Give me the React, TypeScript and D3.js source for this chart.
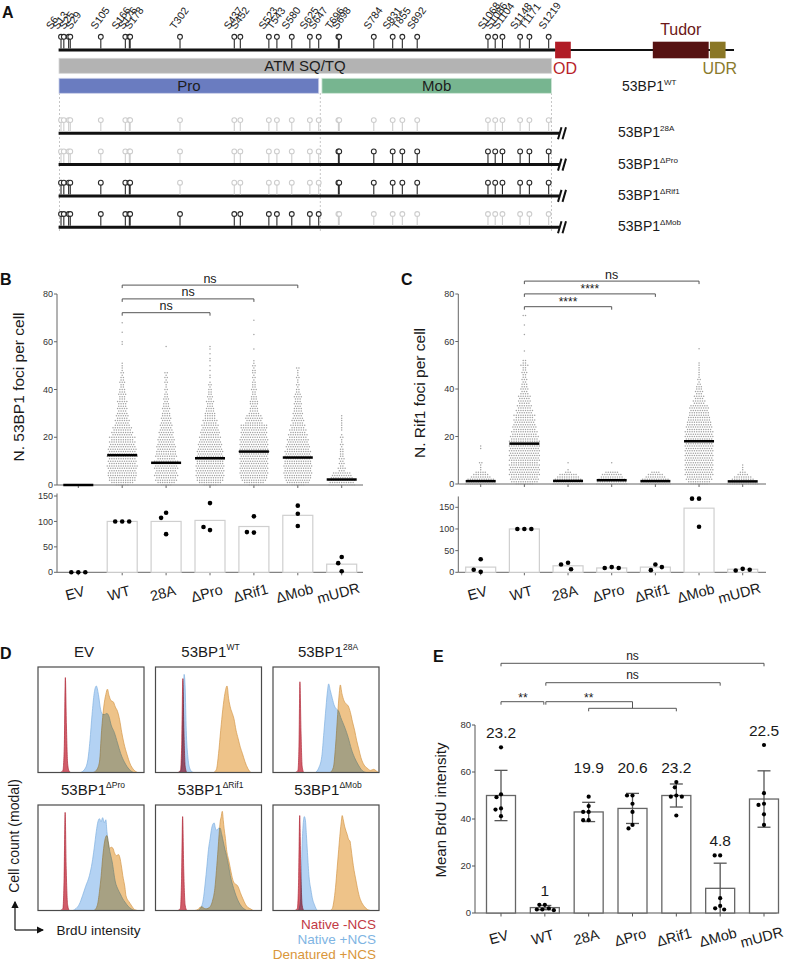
import React from 'react';
import * as d3 from 'd3';

const FONT = "'Liberation Sans', Arial, Helvetica, sans-serif";
const INK = '#1a1a1a';

// ---------------- Panel A data ----------------
const siteLabels = ['S6','S13','S25','S29','S105','S166','S176','S178','T302','S437','S452','S523','T543','S580','S625','S647','T696','S698','S784','S831','T855','S892','S1068','S1086','S1104','S1148','T1171','S1219'];
const siteResidues = siteLabels.map((s) => parseInt(s.slice(1), 10));
const atmRange = [1, 1226];
const proRange = [1, 647];
const mobRange = [655, 1226];
const odRange = [1235, 1274];
const tudorRange = [1478, 1617];
const udrRange = [1620, 1659];
const proteinEnd = 1680;
const constructNames = ['28A', 'ΔPro', 'ΔRif1', 'ΔMob'];
const constructMutated = [[[1, 1230]], [[1, 647]], [[200, 647]], [[655, 1230]]];

// ---------------- Panels B / C data ----------------
const catLabels = ['EV', 'WT', '28A', 'ΔPro', 'ΔRif1', 'ΔMob', 'mUDR'];

// counts of cells per integer foci number (index = foci count)
const fociB_EV = [14];
const fociB_WT = [6,10,12,12,13,13,12,13,14,12, 13,12,14,13,12,13,12,11,12,10, 12,9,10,8,9,7,6,7,5,6, 5,4,5,4,4,5,3,3,4,3, 3,2,2,3,2,2,1,2,1,1, 1,1,0,0,0,0,0,0,0,1, 1,0,0,0,1,0,0,0,1];
const fociB_28A = [5,8,10,9,11,10,9,11,10,9, 11,8,10,9,9,8,9,8,7,8, 7,6,7,6,5,6,5,4,5,4, 4,3,4,3,3,2,3,2,2,1, 2,1,1,2,1,2,1,2,0,0, 0,0,0,0,0,0,0,0,1];
const fociB_dPro = [6,10,12,12,13,12,13,12,13,12, 12,13,12,11,12,11,10,11,10,9, 10,8,9,8,7,8,6,7,5,5, 5,4,4,3,3,4,2,3,2,2, 2,1,2,1,0,1,1,0,1,0, 1,0,1,1,0,1,0,1,1];
const fociB_dRif1 = [5,9,11,12,12,13,12,13,12,13, 12,13,12,13,14,13,12,13,12,13, 12,11,12,11,12,12,8,7,8,7, 5,4,4,3,4,4,3,3,2,2, 3,2,2,2,1,2,1,2,2,1, 2,1,1,0,0,0,0,1,0,0, 0,0,0,1,0,0,0,0,0,1];
const fociB_dMob = [6,10,11,12,12,13,12,12,13,12, 12,11,12,11,12,10,11,10,9,10, 8,9,7,8,6,7,5,6,5,4, 5,4,4,3,4,3,3,4,3,2, 2,1,2,1,1,2,1,1,1,2];
const fociB_mUDR = [12,11,12,10,9,8,3,4,2,3, 2,3,2,2,2,2,1,2,1,1, 2,1,0,1,1,1,1,1,1,1];
const meanB = [0, 12.5, 9.3, 11.2, 14, 11.5, 2.3];
const relB = [0, 100, 100, 102, 90, 112, 16];
const relB_pts = [[0,0,0],[100,100,100],[117,107,75],[136,83,89],[110,78,79],[131,115,91],[30,18,2]];

const fociC_EV = [14,13,12,9,7,5,1,1,1,2,0,0,0,0,0,1,1];
const fociC_WT = [8,12,13,12,14,13,14,13,14,12, 14,13,14,13,14,13,14,12,14,12, 13,11,12,10,11,10,9,10,8,10, 7,8,6,7,5,6,5,6,4,3, 4,3,3,2,3,2,2,3,2,2, 4,2,2,0,0,0,1,0,0,0, 0,0,0,1,0,0,0,1,0,0, 0,2];
const fociC_28A = [14,13,12,10,8,3,1,0,0,1];
const fociC_dPro = [14,13,12,10,9,6,0,0,0,1];
const fociC_dRif1 = [14,13,12,9,7,4];
const fociC_dMob = [8,10,12,11,13,12,13,12,13,12, 13,12,13,12,13,12,13,12,13,12, 13,12,13,11,12,11,11,10,10,9, 9,8,9,8,5,6,4,5,3,4, 3,3,2,1,2,1,1,1,1,1, 1,1,0,0,0,0,0,1];
const fociC_mUDR = [14,12,10,8,5,3,1,1,1];
const meanC = [1.2, 17, 1.3, 1.6, 1.2, 18, 1.1];
const relC = [12, 100, 15, 10, 12, 148, 7];
const relC_pts = [[30,1,6],[100,100,100],[22,18,7],[12,10,10],[18,5,12],[170,170,105],[8,4,6]];

const compB = [{ a: 'WT', b: 'ΔPro', label: 'ns' }, { a: 'WT', b: 'ΔRif1', label: 'ns' }, { a: 'WT', b: 'ΔMob', label: 'ns' }];
const compC = [{ a: 'WT', b: 'ΔPro', label: '****' }, { a: 'WT', b: 'ΔRif1', label: '****' }, { a: 'WT', b: 'ΔMob', label: 'ns' }];

// ---------------- Panel D data ----------------
const histTitles = [['EV', ''], ['53BP1', 'WT'], ['53BP1', '28A'], ['53BP1', 'ΔPro'], ['53BP1', 'ΔRif1'], ['53BP1', 'ΔMob']];
// [intensity %, modal count %]
const histNativeMinus = [
  [[21,0],[23.5,2],[24.8,25],[25.8,90],[26.8,45],[28,8],[29.5,1],[31,0]],
  [[21,0],[23.5,2],[24.8,30],[25.8,89],[26.8,40],[28,6],[29.5,0]],
  [[21,0],[23.5,2],[24.5,25],[25.4,86],[26.4,40],[27.5,6],[29,0]],
  [[21,0],[23.5,2],[24.6,30],[25.6,93],[26.6,40],[28,5],[29.5,0]],
  [[21,0],[23.5,2],[24.6,30],[25.6,89],[26.6,40],[28,5],[29.5,0]],
  [[20.5,0],[23,2],[24.2,30],[25.2,90],[26.2,40],[27.5,5],[29,0]],
];
const histNativePlus = [
  [[40,0],[44,3],[47,12],[49,30],[51,55],[53,75],[55,82],[57,74],[59,60],[61,55],[63,55],[65,56],[67,53],[69,45],[72,38],[75,28],[78,18],[82,9],[86,3],[90,0]],
  [[22,0],[24.5,3],[25.8,40],[27,93],[28,80],[29,40],[30.5,15],[32,5],[34,1],[36,0]],
  [[40,0],[43,4],[46,15],[48,38],[50,62],[51.5,78],[52.5,84],[54,78],[56,70],[58,63],[60,60],[62,58],[64,52],[66,47],[68,42],[71,33],[74,22],[77,14],[80,8],[84,2],[88,0]],
  [[33,0],[36,2],[39,6],[42,14],[45,23],[48.5,33],[51,45],[53,59],[55,75],[56.5,84],[58,87],[59.5,84],[61,88],[62.5,83],[64,86],[65,75],[67,60],[70,46],[73,27],[75.5,20],[77.5,16],[80,11],[82,8],[85,4],[88,1.5],[91,0]],
  [[40,0],[43,3],[45,10],[47,27],[48.5,42],[50,58],[51.5,68],[53,78],[54.2,82],[55.4,83],[56.5,78],[58,76],[59.5,78],[61,78],[62.5,72],[64,65],[65.5,58],[67,52],[69,42],[70.6,33],[72,27],[73.7,21],[76,14],[78.5,8],[81,4],[83,2],[86,0]],
  [[24,0],[25,3],[26,10],[27.4,60],[28.5,82],[29.5,89],[30.5,86],[31.5,72],[32.5,55],[34,32],[35.7,20],[37.5,10],[38.9,6],[40.5,2],[42,0]],
];
const histDenatured = [
  [[52,0],[55,2],[58,10],[60,40],[62,62],[64,74],[65.5,79],[67,73],[69,68],[71,67],[73,62],[75,58],[77,50],[79,38],[81,28],[84,17],[87,8],[90,3],[94,0]],
  [[55,0],[57.5,3],[59.5,18],[61.5,40],[63.5,60],[65.5,75],[67.5,82],[69,70],[70.8,61],[72.5,56],[74,51],[76,40],[78,32],[80,24],[82,18],[84.5,10],[87,4],[90,0]],
  [[54,0],[57,5],[59,25],[61,55],[62.5,75],[63.5,83],[65,75],[67,68],[69,65],[71,63],[73,57],[75,48],[77,40],[79,30],[81,22],[83,14],[86,7],[89,4],[92,2],[95,3],[98,1],[99.5,0]],
  [[53,0],[56,5],[58,18],[59.6,33],[61,50],[62.8,65],[64,70],[65,71],[66.5,64],[67.5,59],[69,60],[70.7,59],[72,55],[74,52],[76,53],[77,51],[79,40],[80,33],[82,22],[83,14],[86,8],[88,5],[91,1],[94,0]],
  [[37,0],[40,1],[42,3],[43.7,3.5],[46,2],[48,1.6],[51,3],[54,10],[56,21],[57.5,38],[59,58],[60,72],[61,84],[62,89],[63,94],[64,85],[64.7,78],[66,68],[67,58],[69,48],[70.6,40],[72,33],[73.7,27],[75.5,25],[77,24],[79,20],[80,17],[82.5,11],[84.8,6],[87,3],[89.6,1.6],[92,0]],
  [[54,0],[56,2],[57.3,8],[59,22],[60.5,40],[62,58],[63,70],[64.2,82],[65.3,90],[66.3,86],[67.5,80],[69,75],[70,72],[71.5,67],[72.6,66],[73.5,60],[75,48],[76.5,38],[78,30],[79.5,22],[81,15],[83,9],[86,4],[89,1],[92,0]],
];
const legendLabels = ['Native -NCS', 'Native +NCS', 'Denatured +NCS'];

// ---------------- Panel E data ----------------
const brduMean = [50, 2.3, 43, 44.5, 50, 10.5, 48.5];
const brduSD = [10.7, 0.9, 4.1, 6.4, 4.9, 10.7, 12];
const brduPts = [
  [70.5, 50.5, 49.3, 44.5, 44, 41.2],
  [3.5, 3.5, 2, 1.5, 1.5, 1.2],
  [49.5, 45.5, 43, 43, 39.5, 39.5],
  [50, 50, 46.5, 43, 37.5, 36],
  [55.7, 53.5, 50, 49.5, 49.5, 41.5],
  [24.5, 24.5, 6.3, 3, 2, 1.5],
  [71.5, 51, 46.5, 46, 42, 37.5],
];
const brduFold = ['23.2', '1', '19.9', '20.6', '23.2', '4.8', '22.5'];

// ---------------- helpers ----------------
function swarmOffsets(ys: number[], minDist: number): number[] {
  const placed: { x: number; y: number }[] = [];
  return ys.map((y) => {
    for (let k = 0; k < 400; k++) {
      const off = (k % 2 === 0 ? 1 : -1) * Math.ceil(k / 2) * 0.5;
      if (placed.every((p) => Math.hypot(p.x - off, p.y - y) >= minDist)) {
        placed.push({ x: off, y });
        return off;
      }
    }
    return 0;
  });
}

function Sup({ x, y, base, sup, size, supSize, anchor = 'start', fill = INK }: any) {
  return (
    <text x={x} y={y} fontSize={size} textAnchor={anchor} fill={fill}>
      {base}
      {sup ? <tspan dy={-size * 0.42} fontSize={supSize}>{sup}</tspan> : null}
    </text>
  );
}

function PanelLetter({ x, y, t }: any) {
  return <text x={x} y={y} fontSize={16} fontWeight="bold" fill="#111">{t}</text>;
}

// ---------------- Panel A ----------------
function PanelA() {
  const xr = d3.scaleLinear().domain([0, 1231]).range([58.6, 553.5]);
  const wtY = 50;
  const rowY = (i: number) => 133.3 + i * 31.3;
  const siteX = siteResidues.map((r) => xr(r));
  const labelX = siteX.map((x) => x - 5);
  const gap = 6.5;
  for (let it = 0; it < 400; it++) {
    for (let i = 1; i < labelX.length; i++) {
      const d = labelX[i] - labelX[i - 1];
      if (d < gap) {
        const s = (gap - d) / 2;
        labelX[i - 1] -= s;
        labelX[i] += s;
      }
    }
  }
  const lolli = (x: number, y: number, active: boolean, key: string) => {
    const c = active ? '#2a2a2a' : '#cdcdcd';
    return (
      <g key={key}>
        <line x1={x} x2={x} y1={y - 11} y2={y - 1.5} stroke={c} strokeWidth={1.1} />
        <circle cx={x} cy={y - 13.2} r={2.4} fill="#fff" stroke={c} strokeWidth={1.1} />
      </g>
    );
  };
  const isMut = (ci: number, r: number) => constructMutated[ci].some(([a, b]) => r >= a && r <= b);
  const breakX = 559;
  return (
    <g>
      <PanelLetter x={2} y={18} t="A" />
      {siteLabels.map((s, i) => {
        const lx = +labelX[i].toFixed(2);
        return (
          <text key={s} x={lx} y={30} transform={`rotate(-54 ${lx} 30)`} fontSize={10.5} fill={INK}>{s}</text>
        );
      })}
      {/* dashed guides */}
      {[xr(proRange[0]) + 0.5, (xr(proRange[1]) + xr(mobRange[0])) / 2, xr(mobRange[1])].map((x, i) => (
        <line key={i} x1={x} x2={x} y1={93} y2={232} stroke="#b8b8b8" strokeWidth={0.8} strokeDasharray="2,2" />
      ))}
      {/* WT line */}
      <line x1={xr(0)} x2={xr(odRange[0])} y1={wtY} y2={wtY} stroke="#111" strokeWidth={3} />
      <line x1={xr(odRange[0])} x2={xr(proteinEnd)} y1={wtY} y2={wtY} stroke="#111" strokeWidth={2.2} />
      {siteX.map((x, i) => lolli(x, wtY, true, 'wt' + i))}
      <rect x={xr(odRange[0])} y={41.7} width={xr(odRange[1]) - xr(odRange[0])} height={16.6} fill="#b01c26" />
      <rect x={xr(tudorRange[0])} y={41.7} width={xr(tudorRange[1]) - xr(tudorRange[0])} height={16.6} fill="#561212" />
      <rect x={xr(udrRange[0])} y={41.7} width={xr(udrRange[1]) - xr(udrRange[0])} height={16.6} fill="#8a7726" />
      <text x={(xr(odRange[0]) + xr(odRange[1])) / 2 + 2} y={74} fontSize={16} textAnchor="middle" fill="#b81f2a">OD</text>
      <text x={(xr(tudorRange[0]) + xr(tudorRange[1])) / 2} y={35} fontSize={16} textAnchor="middle" fill="#6b1717">Tudor</text>
      <text x={(xr(udrRange[0]) + xr(udrRange[1])) / 2 + 2} y={74} fontSize={16} textAnchor="middle" fill="#8a7a2c">UDR</text>
      {/* region bars */}
      <rect x={xr(atmRange[0])} y={58.3} width={xr(atmRange[1]) - xr(atmRange[0])} height={15} fill="#b3b3b3" stroke="#d6d6d6" strokeWidth={0.8} />
      <text x={305} y={71.2} fontSize={15} textAnchor="middle" fill="#1d1d1d">ATM SQ/TQ</text>
      <rect x={xr(proRange[0])} y={78.3} width={xr(proRange[1]) - xr(proRange[0])} height={15} fill="#6a7cc0" stroke="#c9cfe8" strokeWidth={0.8} />
      <text x={(xr(proRange[0]) + xr(proRange[1])) / 2} y={91.2} fontSize={15} textAnchor="middle" fill="#1d1d1d">Pro</text>
      <rect x={xr(mobRange[0])} y={78.3} width={xr(mobRange[1]) - xr(mobRange[0])} height={15} fill="#77b590" stroke="#cfe5d7" strokeWidth={0.8} />
      <text x={(xr(mobRange[0]) + xr(mobRange[1])) / 2} y={91.2} fontSize={15} textAnchor="middle" fill="#1d1d1d">Mob</text>
      <Sup x={622} y={91} base="53BP1" sup="WT" size={14} supSize={8} />
      {/* construct rows */}
      {constructNames.map((name, ci) => {
        const y = rowY(ci);
        return (
          <g key={name}>
            <line x1={xr(0)} x2={breakX} y1={y} y2={y} stroke="#111" strokeWidth={3} />
            {siteX.map((x, i) => lolli(x, y, !isMut(ci, siteResidues[i]), name + i))}
            <line x1={breakX - 1} x2={breakX + 2.5} y1={y + 6} y2={y - 6} stroke="#111" strokeWidth={2} />
            <line x1={breakX + 3.5} x2={breakX + 7} y1={y + 6} y2={y - 6} stroke="#111" strokeWidth={2} />
            <Sup x={618} y={y + 4} base="53BP1" sup={name} size={14} supSize={8} />
          </g>
        );
      })}
    </g>
  );
}

// ---------------- Panels B / C ----------------
function FociPanel({ cfg }: any) {
  const x = d3.scalePoint().domain(catLabels).range(cfg.cxRange);
  const yt = d3.scaleLinear().domain([0, 80]).range(cfg.topRange);
  const yb = d3.scaleLinear().domain([0, 150]).range(cfg.botRange);
  const ax = cfg.axisX;
  const spacing = 2.3;
  const axisCol = '#666';
  return (
    <g>
      <PanelLetter x={cfg.letterX} y={285} t={cfg.letter} />
      <text transform={`translate(${cfg.titleX},${cfg.titleY}) rotate(-90)`} fontSize={15.5} textAnchor="middle" fill={INK}>{cfg.title}</text>
      {/* top axis */}
      <line x1={ax} x2={ax} y1={yt(80)} y2={yt(0)} stroke={axisCol} strokeWidth={1} />
      <line x1={ax} x2={cfg.axisEnd} y1={yt(0)} y2={yt(0)} stroke={axisCol} strokeWidth={1} />
      {[0, 20, 40, 60, 80].map((t) => (
        <g key={t}>
          <line x1={ax - 3} x2={ax} y1={yt(t)} y2={yt(t)} stroke={axisCol} />
          <text x={ax - 4} y={yt(t)} dy="0.35em" fontSize={9} textAnchor="end" fill="#333">{t}</text>
        </g>
      ))}
      {catLabels.map((c) => (
        <line key={c} x1={x(c)} x2={x(c)} y1={yt(0)} y2={yt(0) + 3} stroke={axisCol} />
      ))}
      {/* swarm */}
      {cfg.foci.map((counts: number[], ci: number) => {
        const cx = x(catLabels[ci])!;
        const dots: any[] = [];
        counts.forEach((n, v) => {
          for (let k = 0; k < n; k++) {
            dots.push(<circle key={v + '_' + k} cx={cx + (k - (n - 1) / 2) * spacing} cy={yt(v)} r={0.75} fill="#a2a2a2" />);
          }
        });
        return <g key={ci}>{dots}</g>;
      })}
      {cfg.means.map((m: number, ci: number) => {
        const cx = x(catLabels[ci])!;
        return <line key={ci} x1={cx - 15} x2={cx + 15} y1={yt(m)} y2={yt(m)} stroke="#000" strokeWidth={2.5} />;
      })}
      {/* brackets */}
      {cfg.comps.map((cp: any, i: number) => {
        const yy = cfg.bracketBase - i * cfg.bracketStep;
        const x1 = x(cp.a)!, x2 = x(cp.b)!;
        return (
          <g key={i}>
            <path d={`M${x1},${yy + 3}V${yy}H${x2}V${yy + 3}`} fill="none" stroke="#555" strokeWidth={1} />
            <text x={(x1 + x2) / 2} y={yy - (cp.label === 'ns' ? 2.5 : 1)} fontSize={cp.label === 'ns' ? 12.5 : 12} textAnchor="middle" fill={INK}>{cp.label}</text>
          </g>
        );
      })}
      {/* bottom axis */}
      <line x1={ax} x2={ax} y1={yb(cfg.botAxisMax)} y2={yb(0)} stroke={axisCol} strokeWidth={1} />
      <line x1={ax} x2={cfg.axisEnd} y1={yb(0)} y2={yb(0)} stroke={axisCol} strokeWidth={1} />
      {[0, 50, 100, 150].map((t) => (
        <g key={t}>
          <line x1={ax - 3} x2={ax} y1={yb(t)} y2={yb(t)} stroke={axisCol} />
          <text x={ax - 4} y={yb(t)} dy="0.35em" fontSize={9} textAnchor="end" fill="#333">{t}</text>
        </g>
      ))}
      {catLabels.map((c) => (
        <line key={c} x1={x(c)} x2={x(c)} y1={yb(0)} y2={yb(0) + 3} stroke={axisCol} />
      ))}
      {cfg.rel.map((v: number, ci: number) => {
        const cx = x(catLabels[ci])!;
        return v > 0 ? <rect key={ci} x={cx - 15} y={yb(v)} width={30} height={yb(0) - yb(v)} fill="#fff" stroke="#cfcfcf" strokeWidth={1.2} /> : null;
      })}
      {cfg.relPts.map((pts: number[], ci: number) => {
        const cx = x(catLabels[ci])!;
        const ys = pts.map((p) => yb(p));
        const offs = swarmOffsets(ys, 7);
        return <g key={ci}>{ys.map((yy, k) => <circle key={k} cx={cx + offs[k]} cy={yy} r={2.3} fill="#000" />)}</g>;
      })}
      {catLabels.map((c) => (
        <text key={c} transform={`translate(${x(c)! - 2},${598}) rotate(-15)`} fontSize={14.5} textAnchor="middle" fill={INK}>{c}</text>
      ))}
    </g>
  );
}

const cfgB = {
  letter: 'B', letterX: 0, title: 'N. 53BP1 foci per cell', titleX: 24, titleY: 387,
  axisX: 57, axisEnd: 363, cxRange: [78.3, 341.7], topRange: [485, 294], botRange: [572.3, 496], botAxisMax: 155,
  foci: [fociB_EV, fociB_WT, fociB_28A, fociB_dPro, fociB_dRif1, fociB_dMob, fociB_mUDR], means: meanB, rel: relB, relPts: relB_pts,
  comps: compB, bracketBase: 312.7, bracketStep: 13.8,
};
const cfgC = {
  letter: 'C', letterX: 401, title: 'N. Rif1 foci per cell', titleX: 425, titleY: 393,
  axisX: 458.3, axisEnd: 766, cxRange: [480.7, 742.7], topRange: [484, 294], botRange: [572.3, 507.3], botAxisMax: 175,
  foci: [fociC_EV, fociC_WT, fociC_28A, fociC_dPro, fociC_dRif1, fociC_dMob, fociC_mUDR], means: meanC, rel: relC, relPts: relC_pts,
  comps: compC, bracketBase: 306.7, bracketStep: 12.8,
};

// ---------------- Panel D ----------------
function PanelD() {
  const boxX = [38, 155.5, 273];
  const boxY = [667, 805];
  const w = 106, h = 105.5;
  const layers = [
    { data: histNativeMinus, fill: '#c9404f', stroke: '#b02a3a', op: 0.85, blend: 'normal' },
    { data: histNativePlus, fill: '#afd0f2', stroke: '#7fb0df', op: 0.95, blend: 'multiply' },
    { data: histDenatured, fill: '#edc083', stroke: '#d4984a', op: 0.95, blend: 'multiply' },
  ];
  return (
    <g>
      <PanelLetter x={0} y={659} t="D" />
      {histTitles.map((t, i) => {
        const bx = boxX[i % 3], by = boxY[Math.floor(i / 3)];
        const xs = d3.scaleLinear().domain([0, 100]).range([bx, bx + w]);
        const ys = d3.scaleLinear().domain([0, 100]).range([by + h, by]);
        const area = d3.area<number[]>().x((d) => xs(d[0])).y0(by + h).y1((d) => ys(d[1])).curve(d3.curveMonotoneX);
        const line = d3.line<number[]>().x((d) => xs(d[0])).y((d) => ys(d[1])).curve(d3.curveMonotoneX);
        return (
          <g key={i}>
            <Sup x={bx + w / 2 + (i === 0 ? -7 : 2)} y={by - 10.5} base={t[0]} sup={t[1]} size={15} supSize={8.5} anchor="middle" />
            <g style={{ isolation: 'isolate' }}>
              {layers.map((L, li) => (
                <g key={li} style={{ mixBlendMode: L.blend as any }}>
                  <path d={area(L.data[i] as any) || ''} fill={L.fill} opacity={L.op} />
                  <path d={line(L.data[i] as any) || ''} fill="none" stroke={L.stroke} strokeWidth={0.7} />
                </g>
              ))}
            </g>
            <rect x={bx} y={by} width={w} height={h} fill="none" stroke="#4a4a4a" strokeWidth={1.2} />
          </g>
        );
      })}
      <text transform="translate(19,836) rotate(-90)" fontSize={14} textAnchor="middle" fill={INK}>Cell count (modal)</text>
      <defs>
        <marker id="arr" viewBox="0 0 6 6" refX={5} refY={3} markerWidth={6} markerHeight={6} orient="auto">
          <path d="M0,0L6,3L0,6Z" fill="#111" />
        </marker>
      </defs>
      <line x1={15} x2={15} y1={930} y2={902} stroke="#111" strokeWidth={1.2} markerEnd="url(#arr)" />
      <line x1={15} x2={43} y1={930} y2={930} stroke="#111" strokeWidth={1.2} markerEnd="url(#arr)" />
      <text x={56.5} y={935} fontSize={13.5} fill={INK}>BrdU intensity</text>
      {legendLabels.map((l, i) => (
        <text key={l} x={376} y={929 + i * 15.2} fontSize={13.5} textAnchor="end" fill={['#c23a44', '#7fb5e3', '#d9963a'][i]}>{l}</text>
      ))}
    </g>
  );
}

// ---------------- Panel E ----------------
function PanelE() {
  const x = d3.scalePoint().domain(catLabels).range([501, 764]);
  const y = d3.scaleLinear().domain([0, 80]).range([913, 725]);
  const ax = 475;
  const axisCol = '#555';
  const labelY = brduPts.map((pts, i) => y(Math.max(...pts, brduMean[i] + brduSD[i])) - 9);
  for (let i = labelY.length - 2; i >= 0; i--) {
    if (labelY[i + 1] < labelY[i] && labelY[i] - labelY[i + 1] < 20) labelY[i] = labelY[i + 1];
  }
  for (let i = 1; i < labelY.length; i++) {
    if (labelY[i - 1] < labelY[i] && labelY[i] - labelY[i - 1] < 20) labelY[i] = labelY[i - 1];
  }
  const xc = (c: string) => x(c)!;
  const g1 = (xc('28A') + xc('ΔRif1')) / 2;
  return (
    <g>
      <PanelLetter x={433} y={662} t="E" />
      <text transform={`translate(${446},${810}) rotate(-90)`} fontSize={15} textAnchor="middle" fill={INK}>Mean BrdU intensity</text>
      {/* brackets */}
      <path d={`M${xc('EV')},${666.3}V${663.3}H${xc('mUDR')}V${666.3}`} fill="none" stroke="#555" />
      <text x={(xc('EV') + xc('mUDR')) / 2} y={659.5} fontSize={12} textAnchor="middle" fill={INK}>ns</text>
      <path d={`M${xc('WT') + 1},${685.7}V${682.7}H${xc('ΔMob')}V${685.7}`} fill="none" stroke="#555" />
      <text x={(xc('WT') + xc('ΔMob')) / 2} y={679} fontSize={12} textAnchor="middle" fill={INK}>ns</text>
      <path d={`M${xc('EV')},${704.7}V${701.7}H${xc('WT') - 1}V${704.7}`} fill="none" stroke="#555" />
      <text x={(xc('EV') + xc('WT')) / 2} y={702} fontSize={12} textAnchor="middle" fill={INK}>**</text>
      <path d={`M${xc('WT') + 1},${704.7}V${701.7}H${g1}V${708.3}`} fill="none" stroke="#555" />
      <path d={`M${xc('28A')},${711.3}V${708.3}H${xc('ΔRif1')}V${711.3}`} fill="none" stroke="#555" />
      <text x={(xc('WT') + g1) / 2} y={702} fontSize={12} textAnchor="middle" fill={INK}>**</text>
      {/* axes */}
      <line x1={ax} x2={ax} y1={y(80)} y2={y(0)} stroke={axisCol} />
      <line x1={ax} x2={776.7} y1={y(0)} y2={y(0)} stroke={axisCol} />
      {[0, 20, 40, 60, 80].map((t) => (
        <g key={t}>
          <line x1={ax - 3} x2={ax} y1={y(t)} y2={y(t)} stroke={axisCol} />
          <text x={ax - 4} y={y(t)} dy="0.35em" fontSize={9.5} textAnchor="end" fill="#333">{t}</text>
        </g>
      ))}
      {catLabels.map((c) => (
        <line key={c} x1={xc(c)} x2={xc(c)} y1={y(0)} y2={y(0) + 3.5} stroke={axisCol} />
      ))}
      {brduMean.map((m, i) => {
        const cx = xc(catLabels[i]);
        const lo = Math.max(0, m - brduSD[i]);
        const hi = m + brduSD[i];
        const ys = brduPts[i].map((p) => y(p));
        const offs = swarmOffsets(ys, 5.3);
        return (
          <g key={i}>
            <rect x={cx - 14.5} y={y(m)} width={29} height={y(0) - y(m)} fill="#fff" stroke="#666" strokeWidth={1.3} />
            <line x1={cx} x2={cx} y1={y(lo)} y2={y(hi)} stroke="#555" strokeWidth={1.3} />
            <line x1={cx - 6.5} x2={cx + 6.5} y1={y(hi)} y2={y(hi)} stroke="#555" strokeWidth={1.3} />
            {m - brduSD[i] > 0 ? <line x1={cx - 6.5} x2={cx + 6.5} y1={y(lo)} y2={y(lo)} stroke="#555" strokeWidth={1.3} /> : null}
            {ys.map((yy, k) => <circle key={k} cx={cx + offs[k]} cy={yy} r={2.1} fill="#000" />)}
            <text x={cx} y={labelY[i]} fontSize={15.5} textAnchor="middle" fill={INK}>{brduFold[i]}</text>
          </g>
        );
      })}
      {catLabels.map((c) => (
        <text key={c} transform={`translate(${xc(c) - 1},${942}) rotate(-15)`} fontSize={14.5} textAnchor="middle" fill={INK}>{c}</text>
      ))}
    </g>
  );
}

export default function App() {
  return (
    <svg width={791} height={961} style={{ position: 'absolute', left: 0, top: 0 }} fontFamily={FONT}>
      <rect width={791} height={961} fill="#fff" />
      <PanelA />
      <FociPanel cfg={cfgB} />
      <FociPanel cfg={cfgC} />
      <PanelD />
      <PanelE />
    </svg>
  );
}
